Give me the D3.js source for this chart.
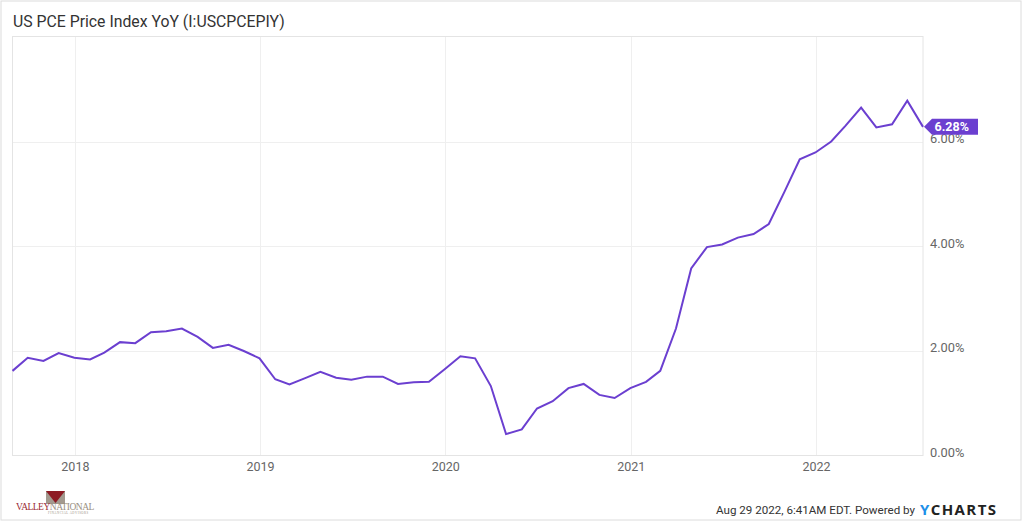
<!DOCTYPE html>
<html>
<head>
<meta charset="utf-8">
<script src="https://cdn.jsdelivr.net/npm/d3@7"></script>
<style>
  html, body { margin: 0; padding: 0; background: #fff; }
  svg { display: block; font-family: Roboto, "Noto Sans", sans-serif; }
</style>
</head>
<body>
<svg id="chart" width="1024" height="522"></svg>
<script>
// ---- Data (monthly, end-of-month dates) ----
const startYear = 2017, startMonth = 7; // August 2017 (0-based month)
const pceValues = [
  1.61, 1.86, 1.80, 1.95, 1.86,                                  // Aug-Dec 2017
  1.83, 1.96, 2.16, 2.14, 2.35, 2.37, 2.42, 2.26, 2.05, 2.11, 1.99, 1.85, // 2018
  1.45, 1.35, 1.47, 1.59, 1.48, 1.44, 1.50, 1.50, 1.36, 1.39, 1.40, 1.64, // 2019
  1.89, 1.85, 1.32, 0.40, 0.49, 0.89, 1.03, 1.28, 1.36, 1.15, 1.09, 1.28, // 2020
  1.40, 1.61, 2.42, 3.57, 3.98, 4.03, 4.16, 4.23, 4.42, 5.04, 5.66, 5.79, // 2021
  6.00, 6.30, 6.65, 6.27, 6.33, 6.78, 6.28                         // Jan-Jul 2022
];
const yTicks = [0, 2, 4, 6];
const yearTicks = [2018, 2019, 2020, 2021, 2022];
const titleText = "US PCE Price Index YoY (I:USCPCEPIY)";
const footerText = "Aug 29 2022, 6:41AM EDT. Powered by";

const data = pceValues.map((v, i) => ({
  date: new Date(startYear, startMonth + i + 1, 0),
  value: v
}));

// ---- Layout ----
const svg = d3.select("#chart");
const plot = { left: 12.5, right: 923, top: 36, bottom: 455 };
const purple = "#6b3fd0";

// outer border
svg.append("rect").attr("x", 1).attr("y", 1).attr("width", 1020).attr("height", 519)
  .attr("fill", "#fff").attr("stroke", "#dcdcdc").attr("stroke-width", 1);

const x = d3.scaleTime()
  .domain([data[0].date, data[data.length - 1].date])
  .range([plot.left, plot.right]);
const y = d3.scaleLinear()
  .domain([0, (plot.bottom - plot.top) / 52.25])
  .range([plot.bottom, plot.top]);

// title
svg.append("text").attr("x", 13).attr("y", 27)
  .attr("font-size", 15.8).attr("fill", "#333").text(titleText);

// gridlines
const grid = svg.append("g");
grid.selectAll("line.h").data(yTicks.filter(t => t > 0)).join("line")
  .attr("x1", plot.left).attr("x2", plot.right)
  .attr("y1", d => Math.round(y(d)) + 0.5).attr("y2", d => Math.round(y(d)) + 0.5)
  .attr("stroke", "#efefef");
grid.selectAll("line.v").data(yearTicks).join("line")
  .attr("x1", d => Math.round(x(new Date(d, 0, 1))) + 0.5)
  .attr("x2", d => Math.round(x(new Date(d, 0, 1))) + 0.5)
  .attr("y1", plot.top).attr("y2", plot.bottom)
  .attr("stroke", "#efefef");

// frame
svg.append("rect").attr("x", plot.left).attr("y", plot.top + 0.5)
  .attr("width", plot.right - plot.left).attr("height", plot.bottom - plot.top)
  .attr("fill", "none").attr("stroke", "#e4e4e4");

// x axis labels
const xAxis = d3.axisBottom(x)
  .tickValues(yearTicks.map(yr => new Date(yr, 0, 1)))
  .tickFormat(d3.timeFormat("%Y"))
  .tickSize(0).tickPadding(7);
const gx = svg.append("g").attr("transform", `translate(0,${plot.bottom})`).call(xAxis);
gx.select(".domain").remove();
gx.selectAll("text").attr("font-family", "Roboto, sans-serif").attr("font-size", 12.5)
  .attr("fill", "#666");

// y axis labels (right)
const yAxis = d3.axisRight(y).tickValues(yTicks)
  .tickFormat(d => d3.format(".2f")(d) + "%")
  .tickSize(0).tickPadding(7);
const gy = svg.append("g").attr("transform", `translate(${plot.right},-3)`).call(yAxis);
gy.select(".domain").remove();
gy.selectAll("text").attr("font-family", "Roboto, sans-serif").attr("font-size", 12.8)
  .attr("fill", "#666");

// line
const line = d3.line().x(d => x(d.date)).y(d => y(d.value));
svg.append("path").datum(data).attr("d", line)
  .attr("fill", "none").attr("stroke", purple).attr("stroke-width", 2)
  .attr("stroke-linejoin", "miter");

// last value flag (covers the top of the 6.00% label, as in the original)
const last = data[data.length - 1];
const lx = x(last.date), ly = y(last.value);
const fg = svg.append("g").attr("transform", `translate(${lx},${ly})`);
fg.append("path")
  .attr("d", "M1,0 L9,-8 L55,-8 L55,8 L9,8 Z")
  .attr("fill", purple);
fg.append("text").attr("x", 11.5).attr("y", 4.5)
  .attr("font-size", 12.5).attr("font-weight", "bold").attr("fill", "#fff")
  .text(d3.format(".2f")(last.value) + "%");

// footer
svg.append("text").attr("x", 915).attr("y", 514).attr("text-anchor", "end")
  .attr("font-size", 11.6).attr("fill", "#333").text(footerText);
const yc = svg.append("text").attr("x", 920).attr("y", 515)
  .attr("font-size", 15).attr("font-weight", "bold").attr("letter-spacing", 1.4)
  .attr("font-family", "'Open Sans', Roboto, sans-serif");
yc.append("tspan").attr("fill", "#1e90e8").text("Y");
yc.append("tspan").attr("fill", "#222").text("CHARTS");

// Valley National logo
const logo = svg.append("g");
logo.append("rect").attr("x", 46).attr("y", 491).attr("width", 19).attr("height", 13).attr("fill", "#a39a8f");
logo.append("path").attr("d", "M46,491 L65,491 L55.5,503 Z").attr("fill", "#8e1b24");
const lt = logo.append("text").attr("x", 16).attr("y", 510)
  .attr("font-family", "'Liberation Serif', 'DejaVu Serif', serif").attr("font-size", 9.5)
  .attr("letter-spacing", -0.5);
lt.append("tspan").attr("fill", "#9b2a33").text("VALLEY");
lt.append("tspan").attr("fill", "#9a8f82").text("NATIONAL");
logo.append("text").attr("x", 48).attr("y", 514)
  .attr("font-family", "'Liberation Serif', serif").attr("font-size", 3)
  .attr("fill", "#9a8f82").attr("letter-spacing", 0.5).text("FINANCIAL ADVISORS");
</script>
</body>
</html>
